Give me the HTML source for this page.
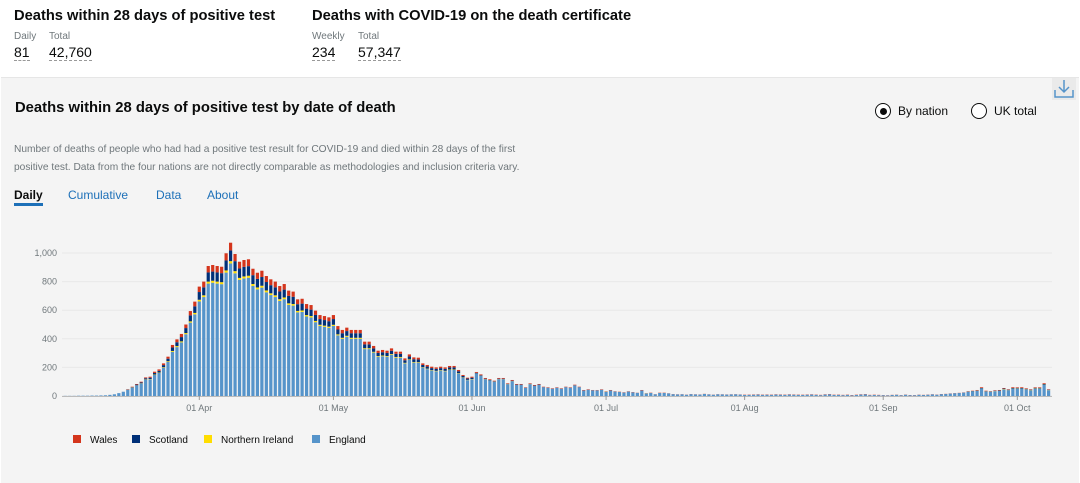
<!DOCTYPE html>
<html><head><meta charset="utf-8"><style>
body{margin:0;width:1080px;height:482px;overflow:hidden;background:#fff;font-family:"Liberation Sans",sans-serif;position:relative}
.a{position:absolute;white-space:nowrap}
.h{font-weight:bold;font-size:14.7px;color:#0b0c0c}
.lab{font-size:10px;color:#6f777b}
.num{font-size:14px;color:#0b0c0c;border-bottom:1px dashed #999;line-height:16px}
#panel{position:absolute;left:1px;top:77px;width:1078px;height:405px;background:#f4f4f4;border-top:1px solid #e6e6e6}
.tab{font-size:12px;color:#1d70b8}
</style></head><body>
<div class="a h" style="left:14px;top:8px">Deaths within 28 days of positive test</div>
<div class="a lab" style="left:14px;top:31px">Daily</div>
<div class="a lab" style="left:49px;top:31px">Total</div>
<div class="a num" style="left:14px;top:44px">81</div>
<div class="a num" style="left:49px;top:44px">42,760</div>
<div class="a h" style="left:312px;top:8px">Deaths with COVID-19 on the death certificate</div>
<div class="a lab" style="left:312px;top:31px">Weekly</div>
<div class="a lab" style="left:358px;top:31px">Total</div>
<div class="a num" style="left:312px;top:44px">234</div>
<div class="a num" style="left:358px;top:44px">57,347</div>
<div id="panel"></div>
<div class="a" style="left:15px;top:100px;font-weight:bold;font-size:14.8px;color:#0b0c0c">Deaths within 28 days of positive test by date of death</div>
<div class="a" style="left:14px;top:141px;font-size:10.2px;color:#6f777b;line-height:18px">Number of deaths of people who had had a positive test result for COVID-19 and died within 28 days of the first<br>positive test. Data from the four nations are not directly comparable as methodologies and inclusion criteria vary.</div>
<div class="a tab" style="left:14px;top:188px;color:#0b0c0c;font-weight:bold;border-bottom:3px solid #1d70b8;padding-bottom:1px">Daily</div>
<div class="a tab" style="left:68px;top:188px">Cumulative</div>
<div class="a tab" style="left:156px;top:188px">Data</div>
<div class="a tab" style="left:207px;top:188px">About</div>
<div class="a" style="left:875px;top:103px;width:14px;height:14px;border:1.5px solid #0b0c0c;border-radius:50%;background:#fff"><div style="position:absolute;left:3.5px;top:3.5px;width:7px;height:7px;border-radius:50%;background:#0b0c0c"></div></div>
<div class="a" style="left:898px;top:104px;font-size:12px;color:#0b0c0c">By nation</div>
<div class="a" style="left:971px;top:103px;width:14px;height:14px;border:1.5px solid #0b0c0c;border-radius:50%;background:#fff"></div>
<div class="a" style="left:994px;top:104px;font-size:12px;color:#0b0c0c">UK total</div>
<svg class="a" style="left:1052px;top:78px" width="24" height="22"><rect width="24" height="22" fill="#eaeaea"/><path d="M12 2v12M7 9l5 5 5-5M3 12v7h18v-7" stroke="#5694ca" stroke-width="1.5" fill="none"/></svg>
<svg id="chart" class="a" style="left:0;top:0" width="1080" height="482"></svg>
<script>
const yTicks=[0,200,400,600,800,1000];
const yTickLabels=["0","200","400","600","800","1,000"];
const xTickIdx=[30,60,91,121,152,183,213];
const xTickLabels=["01 Apr","01 May","01 Jun","01 Jul","01 Aug","01 Sep","01 Oct"];
const england=[1,1,1,2,2,2,3,3,4,5,8,12,20,30,
42,58,74,87,114,117,147,161,197,238,309,342,375,432,513,571,661,
692,786,792,786,782,863,927,858,812,822,827,770,746,758,725,706,692,665,677,637,632,585,588,556,549,516,490,484,477,490,
424,400,414,400,400,400,328,328,304,274,278,274,288,268,268,228,252,234,232,198,188,178,173,178,173,182,182,157,128,111,117,
157,140,117,108,99,117,117,82,103,78,78,57,82,71,78,61,57,50,57,50,61,57,74,61,38,43,39,40,44,30,38,31,28,24,31,26,22,39,18,21,12,21,21,18,
13,11,12,9,13,11,10,14,11,9,12,11,10,11,12,10,
7,8,9,10,8,9,8,10,9,8,10,9,8,7,9,10,8,6,10,12,7,8,6,8,5,7,10,12,6,7,6,
4,3,6,7,4,8,5,4,7,6,8,10,8,12,13,16,18,20,23,
28,32,36,52,31,28,34,35,47,40,51,51,51,45,39,51,51,77,41];
const wales=[0,0,0,0,0,0,0,0,0,0,0,0,0,0,
2,3,4,5,6,7,9,10,12,14,18,20,22,25,30,33,38,
40,45,46,45,45,50,54,50,47,48,48,45,43,44,42,41,40,38,39,37,36,34,34,32,32,30,28,28,27,28,
24,23,24,23,23,23,19,19,17,16,16,16,17,15,15,13,15,13,13,11,11,10,10,10,10,10,10,9,7,6,7,
6,6,5,5,4,5,5,4,5,4,4,3,4,4,4,3,3,3,3,3,3,3,4,3,3,3,2,2,3,2,3,2,2,2,2,2,1,3,1,2,1,2,2,1,
1,1,1,1,1,1,1,1,1,1,1,1,1,1,1,1,
2,2,2,2,2,2,2,2,2,2,2,2,2,2,2,2,2,2,2,2,2,2,2,2,2,2,2,2,2,2,2,
1,1,1,1,1,1,1,1,1,1,1,1,1,1,1,1,1,1,1,
2,2,3,5,3,2,3,3,4,3,5,4,5,4,3,4,4,5,3];
const scotland=[0,0,0,0,0,0,0,0,0,0,0,0,0,0,
2,3,5,6,8,9,11,12,15,18,24,27,30,35,42,46,54,
56,64,64,64,63,70,75,70,66,67,67,62,60,61,59,57,56,54,55,52,51,47,48,45,45,42,40,39,38,40,
34,32,33,32,32,32,27,27,24,22,23,22,23,22,22,18,20,19,19,16,15,14,14,14,14,15,15,13,10,9,9,
4,4,3,3,3,3,3,2,3,2,2,1,2,2,2,1,1,1,1,1,1,1,1,1,1,1,1,0,0,0,1,0,0,0,0,0,0,0,0,0,0,0,0,0,
0,0,0,0,0,0,0,0,0,0,0,0,0,0,0,0,
0,0,0,0,0,0,0,0,0,0,0,0,0,0,0,0,0,0,0,0,0,0,0,0,0,0,0,0,0,0,0,
1,1,1,1,1,1,1,1,1,1,1,1,1,1,1,1,1,1,1,
2,2,2,3,2,2,2,3,3,3,4,4,4,3,3,4,4,5,2];
const nireland=[0,0,0,0,0,0,0,0,0,0,0,0,0,0,
1,1,1,2,2,2,3,3,4,5,6,7,7,8,9,10,12,
12,14,14,14,14,15,16,15,14,14,14,13,13,13,13,12,12,12,12,11,11,10,10,10,10,9,8,8,8,8,
7,7,7,7,7,7,6,6,5,5,5,5,5,5,5,4,4,4,4,3,3,3,3,3,3,3,3,3,2,2,2,
1,1,1,1,1,1,1,1,1,0,0,0,1,0,0,0,0,0,0,0,0,0,0,0,0,0,0,0,0,1,0,0,0,0,0,0,0,0,1,0,0,0,0,0,
0,0,0,0,0,0,0,0,0,0,0,0,0,0,0,0,
0,0,0,0,0,0,0,0,0,0,0,0,0,0,0,0,0,0,0,0,0,0,0,0,0,0,0,0,0,0,0,
0,0,0,0,0,0,0,0,0,0,0,0,0,0,0,0,0,0,0,
1,1,1,1,1,1,1,1,2,1,1,2,1,2,2,2,2,2,1];
const NS='http://www.w3.org/2000/svg';
const svg=document.getElementById('chart');
const y0=396,y1000=253;
function yS(v){return y0-(y0-y1000)*v/1000;}
function xS(i){return 199.3+(i-30)*4.47;}
function mk(t,a){const e=document.createElementNS(NS,t);for(const k in a)e.setAttribute(k,a[k]);svg.appendChild(e);return e;}
yTicks.forEach((v,k)=>{
 const g=mk('line',{x1:62,x2:1052,y1:yS(v),y2:yS(v),stroke:'#e8e8e8','stroke-width':1});
 
 
 const t=mk('text',{x:57,y:yS(v)+3,'text-anchor':'end','font-size':9,fill:'#6f777b','font-family':'Liberation Sans'});
 t.textContent=yTickLabels[k];
 
 
});
const series=[[england,'#5694ca','england'],[nireland,'#ffdd00','northern-ireland'],[scotland,'#003078','scotland'],[wales,'#d4351c','wales']];
for(let i=0;i<england.length;i++){
 let acc=0;
 series.forEach(s=>{
  const v=s[0][i]; if(!v) return;
  const r=mk('rect',{x:xS(i)-1.6,y:yS(acc+v),width:3.2,height:yS(acc)-yS(acc+v),fill:s[1]});
  
  
  acc+=v;
 });
}
mk('line',{x1:62,x2:1052,y1:y0+0.5,y2:y0+0.5,stroke:'#bbb','stroke-width':1});
xTickIdx.forEach((ix,k)=>{
 mk('line',{x1:xS(ix),x2:xS(ix),y1:y0,y2:y0+4,stroke:'#999'});
 const t=mk('text',{x:xS(ix),y:411,'text-anchor':'middle','font-size':9,fill:'#6f777b','font-family':'Liberation Sans'});
 t.textContent=xTickLabels[k];
 
 
});
const legend=[['Wales','#d4351c',73],['Scotland','#003078',132],['Northern Ireland','#ffdd00',204],['England','#5694ca',312]];
legend.forEach(l=>{
 const r=mk('rect',{x:l[2],y:435,width:8,height:8,fill:l[1]});
 
 
 const t=mk('text',{x:l[2]+17,y:443,'font-size':10,fill:'#0b0c0c','font-family':'Liberation Sans'});
 t.textContent=l[0];
 
 
});
</script>
</body></html>
